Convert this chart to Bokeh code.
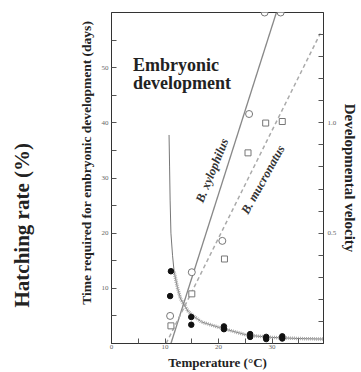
from bokeh.plotting import figure
from bokeh.models import Range1d, LinearAxis, FixedTicker, Label, NumeralTickFormatter
from bokeh.embed import file_html
from bokeh.resources import INLINE

# ---- data ----
# time required for embryonic development (days), filled dots
dev_temp = [11.1, 10.95, 14.9, 14.9, 21.0, 21.0, 25.9, 25.9, 28.9, 28.9, 31.9, 31.9]
dev_days = [13.1, 8.6, 4.8, 3.4, 3.1, 2.6, 1.7, 1.2, 1.2, 0.8, 1.3, 0.9]
# developmental velocity, B. xylophilus (open circles)
xylo_temp = [10.95, 15.0, 20.7, 25.7, 28.6, 31.6]
xylo_vel = [0.125, 0.323, 0.465, 1.04, 1.5, 1.5]
# developmental velocity, B. mucronatus (open squares)
mucro_temp = [11.1, 15.0, 21.1, 25.5, 28.8, 31.9]
mucro_vel = [0.08, 0.225, 0.383, 0.864, 0.999, 1.006]
# regression lines
xylo_line_temp = [11.1, 30.8]
xylo_line_vel = [0.0, 1.5]
mucro_line_temp = [10.2, 39.0]
mucro_line_vel = [0.0, 1.405]
# development-time curve
curve_temp = [10.75, 10.85, 10.95, 11.1, 11.4, 11.7, 12.3, 12.9, 14.4, 16.8, 20.5, 25.4, 30.0, 35.0, 39.6]
curve_days = [37.8, 32.0, 26.0, 20.0, 16.0, 13.0, 10.2, 8.1, 5.7, 3.9, 2.8, 1.5, 1.1, 0.9, 0.8]
band_temp = curve_temp[5:]
band_days = curve_days[5:]
# ticks
x_major = [0, 10, 20, 30]
x_minor = [5, 15, 25, 35]
y_major = [10, 20, 30, 40, 50]
y_minor = [5, 15, 25, 35, 45, 55]
v_major = [0.5, 1.0]
v_minor = [0.1, 0.2, 0.3, 0.4, 0.6, 0.7, 0.8, 0.9, 1.1, 1.2, 1.3, 1.4]

SERIF = "Liberation Serif"
NBSP = "\u00a0"

p = figure(width=361, height=372, x_range=Range1d(0, 39.6), y_range=Range1d(0, 60),
           output_backend="svg", toolbar_location=None,
           min_border_left=111, min_border_right=33, min_border_top=12, min_border_bottom=27)
p.extra_y_ranges = {"vel": Range1d(0, 1.5)}
p.grid.visible = False
p.outline_line_color = "#333"
p.outline_line_width = 1
p.background_fill_color = "white"
p.border_fill_color = "white"

def style_axis(ax):
    ax.major_tick_in = 5
    ax.major_tick_out = 0
    ax.minor_tick_in = 5
    ax.minor_tick_out = 0
    ax.axis_line_color = "#333"
    ax.major_tick_line_color = "#555"
    ax.minor_tick_line_color = "#555"
    ax.major_label_text_font_size = "7px"
    ax.major_label_text_color = "#666"
    ax.major_label_text_font = SERIF
    ax.axis_label_text_font = SERIF
    ax.axis_label_text_font_style = "bold"
    ax.axis_label_text_color = "#222"

xax = p.xaxis[0]
yax = p.yaxis[0]
xax.ticker = FixedTicker(ticks=x_major, minor_ticks=x_minor)
yax.ticker = FixedTicker(ticks=y_major, minor_ticks=y_minor)
style_axis(xax)
style_axis(yax)
xax.major_label_standoff = 1
yax.major_label_standoff = 3
xax.axis_label = "Temperature (\u00b0C)"
xax.axis_label_text_font_size = "13px"
xax.axis_label_standoff = 3
yax.axis_label = NBSP * 9 + "Time required for embryonic development (days)"
yax.axis_label_text_font_size = "13.5px"
yax.axis_label_standoff = 5

rax = LinearAxis(y_range_name="vel", ticker=FixedTicker(ticks=v_major, minor_ticks=v_minor),
                 formatter=NumeralTickFormatter(format="0.0"))
style_axis(rax)
rax.major_label_standoff = 4
rax.axis_label = "Developmental velocity"
rax.axis_label_text_font_size = "15px"
rax.axis_label_standoff = 3
p.add_layout(rax, "right")

hax = LinearAxis(ticker=FixedTicker(ticks=[]))
style_axis(hax)
hax.axis_line_color = None
hax.major_label_text_font_size = "0px"
hax.axis_label = "Hatching rate (%)" + NBSP * 18
hax.axis_label_text_font_size = "21px"
hax.axis_label_standoff = 42
p.add_layout(hax, "left")

# curves
p.line(curve_temp, curve_days, line_color="#777", line_width=1)
p.line(band_temp, band_days, line_color="#aaa", line_width=3.5, line_dash="1 1")
p.line(xylo_line_temp, xylo_line_vel, y_range_name="vel", line_color="#888", line_width=1.3)
p.line(mucro_line_temp, mucro_line_vel, y_range_name="vel", line_color="#aaa", line_width=1.5, line_dash="4 3")

# markers
p.scatter(xylo_temp, xylo_vel, y_range_name="vel", marker="circle", size=7,
          fill_color="white", line_color="#777", line_width=1)
p.scatter(mucro_temp, mucro_vel, y_range_name="vel", marker="square", size=6,
          fill_color="white", line_color="#777", line_width=1)
p.scatter(dev_temp, dev_days, marker="circle", size=5.5, fill_color="#111", line_color="#111")

def lab(x, y, text, size, angle=0, style="bold", align="center", baseline="middle", color="#222"):
    p.add_layout(Label(x=x, y=y, text=text, angle=angle, angle_units="deg",
                       text_font=SERIF, text_font_style=style, text_font_size=size,
                       text_align=align, text_baseline=baseline, text_color=color))

lab(4.01, 50.4, "Embryonic", "18px", align="left", baseline="alphabetic")
lab(4.01, 47.2, "development", "18px", align="left", baseline="alphabetic")
lab(18.8, 31.35, "B. xylophilus", "12.5px", angle=68, style="bold italic", color="#333")
lab(28.3, 29.7, "B. mucronatus", "12.5px", angle=61, style="bold italic", color="#333")

open("out.html", "w").write(file_html(p, INLINE))
